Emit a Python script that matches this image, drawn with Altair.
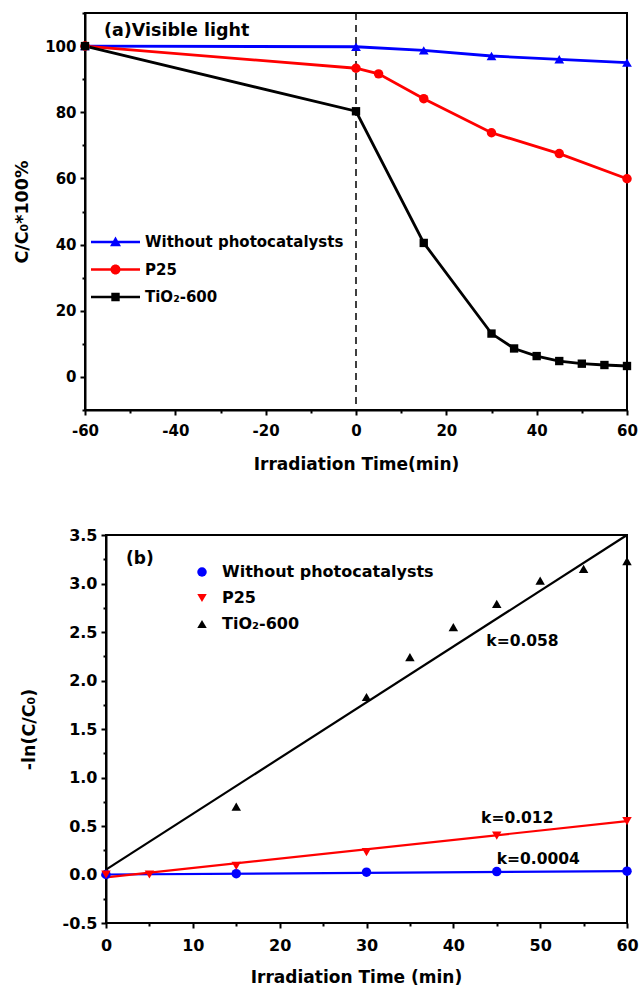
import altair as alt
import pandas as pd

FONT = "DejaVu Sans"

# ---------------- panel (a) data ----------------
series_names = ["Without photocatalysts", "P25", "TiO₂-600"]
series_colors = ["#0000ff", "#ff0000", "#000000"]

a_without_t = [-60, 0, 15, 30, 45, 60]
a_without_c = [100, 99.8, 98.7, 97.0, 96.0, 95.0]
a_p25_t = [-60, 0, 5, 15, 30, 45, 60]
a_p25_c = [100, 93.3, 91.6, 84.1, 73.8, 67.5, 59.9]
a_tio2_t = [-60, 0, 15, 30, 35, 40, 45, 50, 55, 60]
a_tio2_c = [100, 80.3, 40.5, 13.1, 8.6, 6.3, 4.8, 4.0, 3.6, 3.3]
light_on_t = [0]

a_x_ticks = [-60, -40, -20, 0, 20, 40, 60]
a_x_minor = [-50, -30, -10, 10, 30, 50]
a_y_ticks = [0, 20, 40, 60, 80, 100]
a_y_minor = [-10, 10, 30, 50, 70, 90, 110]
a_label = "(a)Visible light"

# ---------------- panel (b) data ----------------
b_without_t = [0, 15, 30, 45, 60]
b_without_v = [0.0, 0.008, 0.024, 0.030, 0.034]
b_p25_t = [0, 5, 15, 30, 45, 60]
b_p25_v = [0.0, 0.0, 0.09, 0.23, 0.40, 0.55]
b_tio2_t = [15, 30, 35, 40, 45, 50, 55, 60]
b_tio2_v = [0.70, 1.83, 2.24, 2.55, 2.79, 3.03, 3.15, 3.23]

fit_t = [0, 60]
fit_without_v = [0.0, 0.034]
fit_p25_v = [-0.03, 0.55]
fit_tio2_v = [0.05, 3.5]

k_labels = ["k=0.058", "k=0.012", "k=0.0004"]
k_t = [43.8, 43.2, 45.0]
k_v = [2.41, 0.58, 0.155]

b_x_ticks = [0, 10, 20, 30, 40, 50, 60]
b_x_minor = [5, 15, 25, 35, 45, 55]
b_y_ticks = [-0.5, 0.0, 0.5, 1.0, 1.5, 2.0, 2.5, 3.0, 3.5]
b_y_minor = [-0.25, 0.25, 0.75, 1.25, 1.75, 2.25, 2.75, 3.25]
b_label = "(b)"


def long_frame(parts):
    rows = []
    for name, ts, vs in parts:
        for t, v in zip(ts, vs):
            rows.append({"series": name, "t": t, "v": v})
    return pd.DataFrame(rows)


df_a = long_frame([
    (series_names[0], a_without_t, a_without_c),
    (series_names[1], a_p25_t, a_p25_c),
    (series_names[2], a_tio2_t, a_tio2_c),
])
df_b = long_frame([
    (series_names[0], b_without_t, b_without_v),
    (series_names[1], b_p25_t, b_p25_v),
    (series_names[2], b_tio2_t, b_tio2_v),
])
df_fit = long_frame([
    (series_names[0], fit_t, fit_without_v),
    (series_names[1], fit_t, fit_p25_v),
    (series_names[2], fit_t, fit_tio2_v),
])
df_k = pd.DataFrame({"label": k_labels, "t": k_t, "v": k_v})

HYPHEN = "replace(datum.label, '\u2212', '-')"


def sc(dom):
    return alt.Scale(domain=dom, nice=False, zero=False)


def X(dom, axis=None):
    return alt.X("t", type="quantitative", scale=sc(dom), axis=axis)


def Y(dom, axis=None):
    return alt.Y("v", type="quantitative", scale=sc(dom), axis=axis)


def major_axis(values, title, fmt, orient, label_size, title_size, label_pad, title_pad,
               offset=0, domain=True):
    return alt.Axis(values=values, title=title, format=fmt, orient=orient, labelExpr=HYPHEN,
                    labelFlush=False, labelOverlap=False, tickSize=5, tickWidth=2,
                    domain=domain, domainWidth=2, labelFontSize=label_size,
                    titleFontSize=title_size, labelPadding=label_pad,
                    titlePadding=title_pad, offset=offset, grid=False)


def minor_axis(values, orient, offset=0):
    return alt.Axis(values=values, orient=orient, labels=False, domain=False, offset=offset,
                    title=None, tickSize=3, tickWidth=2, grid=False)


color_scale = alt.Scale(domain=series_names, range=series_colors)

# ---------------- panel (a) ----------------
AW, AH = 542, 397
AXD = [-60, 60]
AYD = [-10, 110]

rule_a = alt.Chart(pd.DataFrame({"t": light_on_t})).mark_rule(
    color="black", strokeWidth=1.5, strokeDash=[7, 5]
).encode(x=X(AXD))

ax_a_x = major_axis(a_x_ticks, "Irradiation Time(min)", "d", "bottom", 15, 17, 8, 18)
ax_a_y = major_axis(a_y_ticks, "C/C₀*100%", "d", "left", 15, 17.5, 4, 13)

lines_a = [
    alt.Chart(df_a).transform_filter(alt.datum.series == name).mark_line(
        strokeWidth=2.8, color=col
    ).encode(x=X(AXD, ax_a_x if i == 0 else None), y=Y(AYD, ax_a_y if i == 0 else None))
    for i, (name, col) in enumerate(zip(series_names, series_colors))
]

marker_shapes = ["triangle-up", "circle", "square"]
marker_sizes = [95, 90, 70]
points_a = [
    alt.Chart(df_a).transform_filter(alt.datum.series == name).mark_point(
        filled=True, shape=shp, size=sz, color=col, opacity=1
    ).encode(x=X(AXD), y=Y(AYD))
    for name, shp, sz, col in zip(series_names, marker_shapes, marker_sizes, series_colors)
]

minor_a = alt.Chart(df_a).mark_point(opacity=0).encode(
    x=X(AXD, minor_axis(a_x_minor, "bottom")),
    y=Y(AYD, minor_axis(a_y_minor, "left")),
)

# legend symbols: a line segment with the series marker on it
cx = -1.55
seg = "M-4,-0.13H0.9V0.13H-4Z"
tri = f"M{cx-0.55:.2f},0.42L{cx:.2f},-0.55L{cx+0.55:.2f},0.42Z"
circ = f"M{cx-0.5:.2f},0A0.5,0.5 0 1,1 {cx+0.5:.2f},0A0.5,0.5 0 1,1 {cx-0.5:.2f},0Z"
sq = f"M{cx-0.42:.2f},-0.42H{cx+0.42:.2f}V0.42H{cx-0.42:.2f}Z"
legend_paths = [seg + tri, seg + circ, seg + sq]

# the legend layer's own marks have zero size; only its legend is seen
legend_a = alt.Chart(df_a).mark_point(filled=True, size=0, opacity=1).encode(
    x=X(AXD), y=Y(AYD),
    color=alt.Color("series:N", scale=color_scale, legend=alt.Legend(
        orient="none", legendX=36, legendY=219, title=None, padding=0,
        labelFont=FONT, labelFontSize=15, labelFontWeight="bold", labelColor="black",
        symbolSize=400, symbolStrokeWidth=0, symbolOpacity=1, labelOffset=4, rowPadding=9.5,
        labelLimit=400)),
    shape=alt.Shape("series:N", scale=alt.Scale(domain=series_names, range=legend_paths)),
)

text_a = alt.Chart(pd.DataFrame({"label": [a_label]})).mark_text(
    align="left", baseline="middle", font=FONT, fontSize=17.5, fontWeight="bold", color="black"
).encode(x=alt.value(19), y=alt.value(18), text="label:N")

panel_a = alt.layer(rule_a, *lines_a, *points_a, minor_a, legend_a, text_a).resolve_scale(
    x="independent", y="independent"
).properties(width=AW, height=AH)

# ---------------- panel (b) ----------------
# panel (b) frame starts GAP px right of panel (a)'s frame
GAP = 21
BH = 388
BXD = [-60 * GAP / (AW - GAP), 60]
BYD = [-0.5, 3.5]

frame_b = alt.Chart(pd.DataFrame({"d": [0]})).mark_rect(
    filled=False, color="black", strokeWidth=2
).encode(
    x=alt.X(datum=b_x_ticks[0], type="quantitative", scale=sc(BXD), axis=None),
    x2=alt.X2(datum=b_x_ticks[-1]),
    y=alt.Y(datum=b_y_ticks[0], type="quantitative", scale=sc(BYD), axis=None),
    y2=alt.Y2(datum=b_y_ticks[-1]),
)

ax_b_x = major_axis(b_x_ticks, "Irradiation Time (min)", "d", "bottom", 16, 17, 9, 16,
                    domain=False)
ax_b_y = major_axis(b_y_ticks, "-ln(C/C₀)", ".1f", "left", 16, 17.5, 4, 24, offset=-GAP)

fit_b = [
    alt.Chart(df_fit).transform_filter(alt.datum.series == name).mark_line(
        strokeWidth=2.2, color=col
    ).encode(x=X(BXD, ax_b_x if i == 0 else None), y=Y(BYD, ax_b_y if i == 0 else None))
    for i, (name, col) in enumerate(zip(series_names, series_colors))
]

points_b = alt.Chart(df_b).mark_point(filled=True, size=90, opacity=1).encode(
    x=X(BXD), y=Y(BYD),
    color=alt.Color("series:N", scale=color_scale, legend=alt.Legend(
        orient="none", legendX=109, legendY=29, title=None, padding=0,
        labelFont=FONT, labelFontSize=16, labelFontWeight="bold", labelColor="black",
        symbolSize=90, symbolStrokeWidth=0, symbolOpacity=1, labelOffset=12, rowPadding=10,
        labelLimit=400)),
    shape=alt.Shape("series:N", scale=alt.Scale(
        domain=series_names, range=["circle", "triangle-down", "triangle-up"])),
)

minor_b = alt.Chart(df_b).mark_point(opacity=0).encode(
    x=X(BXD, minor_axis(b_x_minor, "bottom")),
    y=Y(BYD, minor_axis(b_y_minor, "left", offset=-GAP)),
)

k_text = alt.Chart(df_k).mark_text(
    align="left", baseline="middle", font=FONT, fontSize=15.5, fontWeight="bold", color="black"
).encode(x=X(BXD), y=Y(BYD), text="label:N")

text_b = alt.Chart(pd.DataFrame({"label": [b_label]})).mark_text(
    align="left", baseline="middle", font=FONT, fontSize=17, fontWeight="bold", color="black"
).encode(x=alt.value(GAP + 20), y=alt.value(24), text="label:N")

panel_b = alt.layer(frame_b, *fit_b, points_b, minor_b, k_text, text_b).resolve_scale(
    x="independent", y="independent"
).properties(width=AW, height=BH, view=alt.ViewBackground(stroke="transparent"))

chart = alt.vconcat(panel_a, panel_b, spacing=53).resolve_scale(
    color="independent", shape="independent"
).properties(
    padding={"left": 12, "top": 11, "right": 0, "bottom": 0}, background="white"
).configure_axis(
    labelFont=FONT, titleFont=FONT, labelFontWeight="bold", titleFontWeight="bold",
    labelColor="black", titleColor="black", domainColor="black", tickColor="black",
).configure_view(stroke="black", strokeWidth=2)

chart.save("out.html", embed_options={"renderer": "svg", "actions": False})
